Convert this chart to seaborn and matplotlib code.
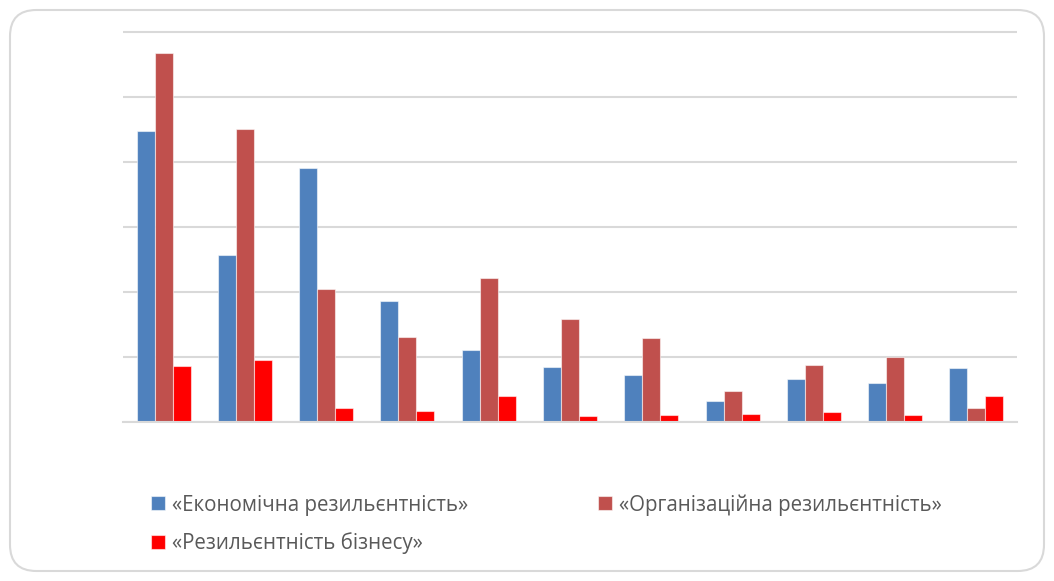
import pandas as pd
import seaborn as sns
import matplotlib.pyplot as plt
from matplotlib.patches import FancyBboxPatch

# values (grid step = 10, axis labels hidden in the original)
categories = [f"C{i}" for i in range(1, 12)]
series_names = ["«Економічна резильєнтність»",
                "«Організаційна резильєнтність»",
                "«Резильєнтність бізнесу»"]
econ = [44.7, 25.7, 39.0, 18.7, 11.1, 8.5, 7.2, 3.2, 6.7, 6.1, 8.3]
org = [56.7, 45.0, 20.5, 13.1, 22.1, 15.8, 12.9, 4.8, 8.8, 10.0, 2.15]
biz = [8.7, 9.5, 2.15, 1.7, 4.0, 1.0, 1.1, 1.2, 1.65, 1.05, 4.1]
colors = ["#4F81BD", "#C0504D", "#FF0000"]

df = pd.DataFrame({
    "category": categories * 3,
    "series": [series_names[0]] * 11 + [series_names[1]] * 11 + [series_names[2]] * 11,
    "value": econ + org + biz,
})

sns.set_style("white")
plt.rcParams["font.family"] = ["Open Sans", "DejaVu Sans"]

fig = plt.figure(figsize=(10.54, 5.81), dpi=100)
ax = fig.add_axes([123 / 1054, 1 - 422.3 / 581, (1017 - 123) / 1054, (422.3 - 28.4) / 581])

sns.barplot(data=df, x="category", y="value", hue="series", palette=colors,
            width=0.664, saturation=1, ax=ax, edgecolor=(1, 1, 1, 0.55), linewidth=0.8)

ax.set_ylim(0, 60.5)
ax.set_xlim(-0.5, 10.5)
ax.set_yticks(range(0, 61, 10))
ax.set_xticks([])
ax.tick_params(left=False, labelleft=False, bottom=False, labelbottom=False)
ax.grid(axis="y", color="#D9D9D9", linewidth=1.5)
ax.set_axisbelow(True)
for side in ["top", "left", "right"]:
    ax.spines[side].set_visible(False)
ax.spines["bottom"].set_color("#D9D9D9")
ax.spines["bottom"].set_linewidth(1.5)
ax.set_xlabel("")
ax.set_ylabel("")

# legend, row-major order as in the original
handles, labels = ax.get_legend_handles_labels()
ax.get_legend().remove()
order = [0, 2, 1]
leg = fig.legend([handles[i] for i in order], [labels[i] for i in order],
                 ncol=2, loc="upper left", bbox_to_anchor=(151 / 1054, 1 - 494 / 581),
                 frameon=False, fontsize=14.8, handlelength=0.68, handleheight=0.68,
                 handletextpad=0.35, labelspacing=0.82, columnspacing=6.3,
                 borderaxespad=0, borderpad=0)
for t in leg.get_texts():
    t.set_color("#595959")

# rounded chart frame
frame = FancyBboxPatch((10 / 1054, 10 / 581), 1034 / 1054, 561 / 581,
                       boxstyle="round,pad=0,rounding_size=0.025",
                       transform=fig.transFigure, facecolor="none",
                       edgecolor="#D9D9D9", linewidth=1.5, mutation_aspect=1054 / 581)
fig.patches.append(frame)

fig.savefig("out.png", dpi=100)
